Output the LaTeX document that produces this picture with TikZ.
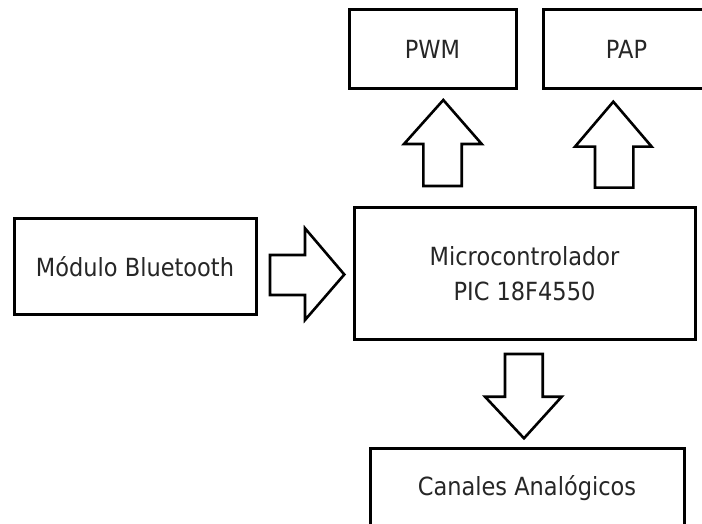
\documentclass[tikz,border=0pt]{standalone}
\usepackage{fontspec}
\setmainfont{DejaVu Sans}[FakeStretch=0.9]
\begin{document}
\begin{tikzpicture}[x=1pt,y=-1pt,
  blockbox/.style={draw=black, line width=3pt, fill=white, inner sep=0pt,
    font=\fontsize{25}{34.4}\selectfont, text=black!85, align=center},
  blockarrow/.style={draw=black, line width=2.6pt, fill=white, line join=miter}]
\useasboundingbox (0,0) rectangle (702,524);
\begin{scope}
\clip (0,0) rectangle (702,524);
\node[blockbox, minimum width=167pt, minimum height=79pt] (pwm) at (432.5,49.5) {PWM};
\node[blockbox, minimum width=167pt, minimum height=79pt] (pap) at (626.5,49.5) {PAP};
\node[blockbox, minimum width=242pt, minimum height=95.5pt] (bt) at (135,266.75) {Módulo Bluetooth};
\node[blockbox, minimum width=341pt, minimum height=132pt] (mcu) at (524.5,273.5) {Microcontrolador\\PIC 18F4550};
\node[blockbox, minimum width=314pt, minimum height=80pt] (can) at (527,488) {Canales Analógicos};
\end{scope}
% up arrow to PWM
\draw[blockarrow] (423.3,186) -- (423.3,144) -- (404,144) -- (443.3,100) -- (481.7,144) -- (461.7,144) -- (461.7,186) -- cycle;
% up arrow to PAP
\draw[blockarrow] (595,187.7) -- (595,146.7) -- (575,146.7) -- (613.3,101.7) -- (651.7,146.7) -- (633.3,146.7) -- (633.3,187.7) -- cycle;
% right arrow from Bluetooth
\draw[blockarrow] (270,255) -- (305,255) -- (305,228.3) -- (344.3,274.5) -- (305,320) -- (305,295) -- (270,295) -- cycle;
% down arrow to Canales
\draw[blockarrow] (505,354) -- (542.7,354) -- (542.7,396.7) -- (561.7,396.7) -- (524,438.3) -- (485,396.7) -- (505,396.7) -- cycle;
\end{tikzpicture}
\end{document}
